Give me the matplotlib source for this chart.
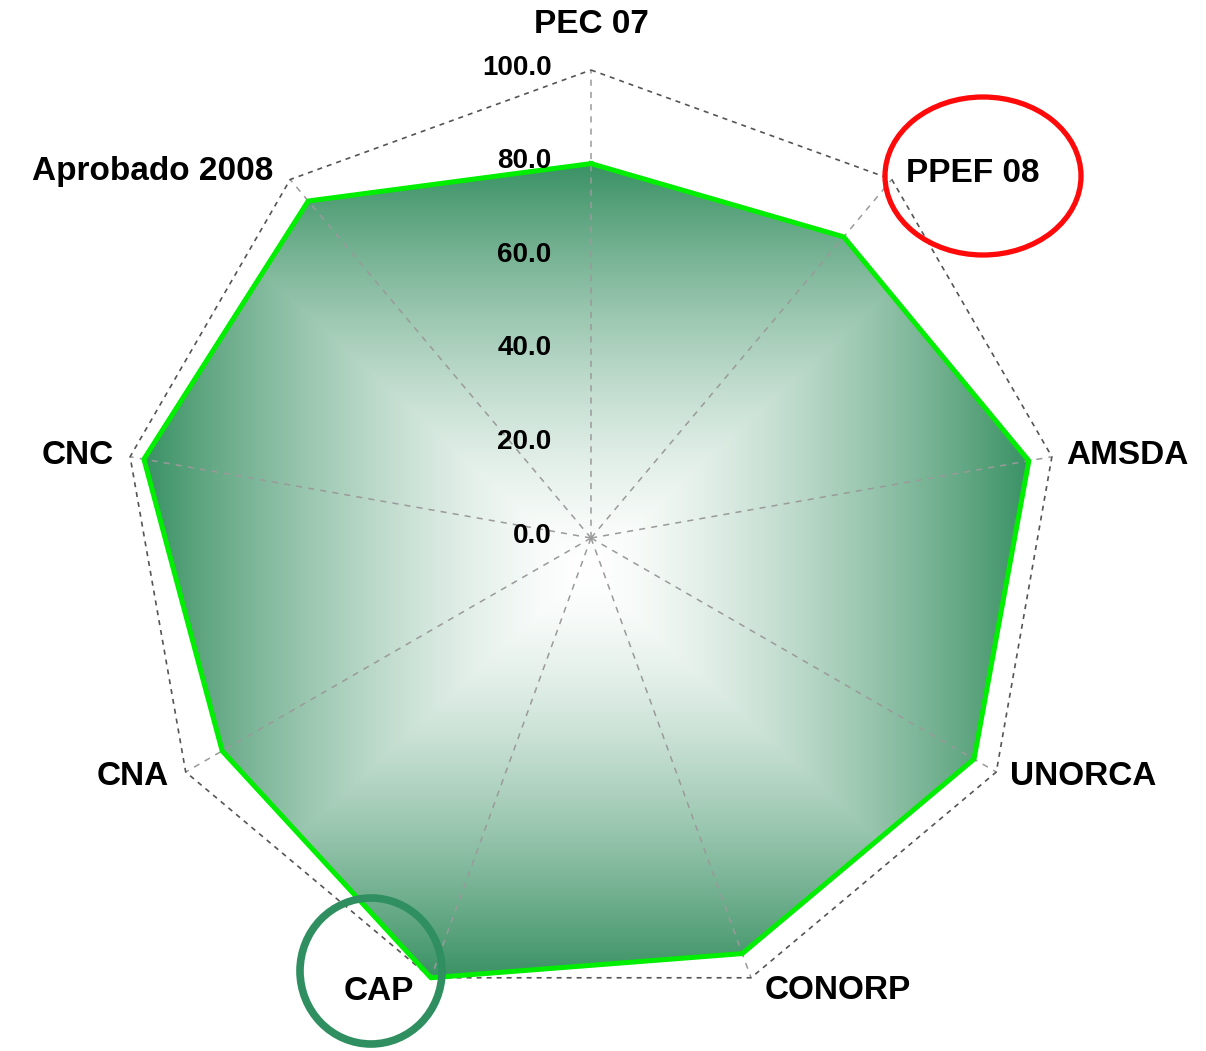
import numpy as np
import matplotlib
matplotlib.use("Agg")
import matplotlib.pyplot as plt
from matplotlib.patches import Polygon, Ellipse
from matplotlib.colors import to_rgb

# ---- data ----
categories = ["PEC 07", "PPEF 08", "AMSDA", "UNORCA", "CONORP", "CAP", "CNA", "CNC", "Aprobado 2008"]
values = [80.0, 84.0, 95.0, 94.5, 94.5, 100.0, 91.0, 97.0, 94.0]
tick_values = [0, 20, 40, 60, 80, 100]
tick_labels = ["0.0", "20.0", "40.0", "60.0", "80.0", "100.0"]

plt.rcParams['font.family'] = ['Liberation Sans', 'DejaVu Sans']

W, H = 1206, 1051
fig = plt.figure(figsize=(W / 100, H / 100), dpi=100)
ax = fig.add_axes([0, 0, 1, 1])
cx, cy, scale = 591.0, 538.0, 4.68   # pixel centre and px per unit
ax.set_xlim(-cx / scale, (W - cx) / scale)
ax.set_ylim(-(H - cy) / scale, cy / scale)
ax.set_aspect('equal')
ax.axis('off')

n = len(categories)
ang = np.arange(n) * 2 * np.pi / n  # clockwise from top
vals = np.array(values)
px = vals * np.sin(ang)
py = vals * np.cos(ang)
verts = np.column_stack([px, py])

# ---- rectangular "from centre" gradient over the polygon's bounding box ----
x0, x1 = px.min(), px.max()
y0, y1 = py.min(), py.max()
bcx, bcy = (x0 + x1) / 2, (y0 + y1) / 2
hx, hy = (x1 - x0) / 2, (y1 - y0) / 2
gx = np.linspace(-110, 110, 1000)
gy = np.linspace(-110, 110, 1000)
XX, YY = np.meshgrid(gx, gy)
T = np.maximum(np.abs(XX - bcx) / hx, np.abs(YY - bcy) / hy)
T = np.clip(T, 0, 1) ** 1.45
edge = np.array(to_rgb("#3a9164"))
img = np.ones(XX.shape + (3,)) * (1 - T[..., None]) + edge * T[..., None]
poly = Polygon(verts, closed=True, facecolor='none', edgecolor='none')
ax.add_patch(poly)
im = ax.imshow(img, extent=(-110, 110, -110, 110), origin='lower', zorder=1,
               interpolation='bilinear')
im.set_clip_path(poly)

# ---- spokes ----
for a in ang:
    ax.plot([0, 100 * np.sin(a)], [0, 100 * np.cos(a)], color='#9a9a9a', lw=1.1,
            ls=(0, (4, 4)), zorder=2)

# ---- outer ring (100) ----
ring_x = np.append(100 * np.sin(ang), 0)
ring_y = np.append(100 * np.cos(ang), 100)
ax.plot(ring_x, ring_y, color='#555555', lw=1.2, ls=(0, (3, 3)), zorder=2)

# ---- data outline ----
ax.plot(np.append(px, px[0]), np.append(py, py[0]), color='#00ee00', lw=3.6, zorder=3,
        solid_joinstyle='round')

# ---- tick labels ----
for v, lab in zip(tick_values, tick_labels):
    ax.text(-8.4, v + 0.5, lab, ha='right', va='center', fontsize=20, fontweight='bold', zorder=4)

# ---- category labels ----
for i, (c, a) in enumerate(zip(categories, ang)):
    x, y = 100 * np.sin(a), 100 * np.cos(a)
    deg = np.degrees(a)
    if i == 0:
        ax.annotate(c, (x, y), xytext=(0, 33), textcoords='offset points', ha='center',
                    va='center', fontsize=24, fontweight='bold', zorder=4)
    else:
        if deg < 180:
            ha, dx = 'left', 10
        else:
            ha, dx = 'right', -12
        dy = {1: 4, 2: 1, 3: -3, 4: -9, 5: -10, 6: -3, 7: 1, 8: 6}[i]
        ax.annotate(c, (x, y), xytext=(dx, dy), textcoords='offset points', ha=ha,
                    va='center', fontsize=24, fontweight='bold', zorder=4)

# ---- highlight circles ----
def p2d(pxx, pyy):
    return ((pxx - cx) / scale, (cy - pyy) / scale)

ax.add_patch(Ellipse(p2d(983, 176), 196 / scale, 158 / scale, fill=False,
                     edgecolor='#ff0a0a', lw=3.8, zorder=5))
ax.add_patch(Ellipse(p2d(371, 971), 142 / scale, 146 / scale, fill=False,
                     edgecolor='#2f8f60', lw=5.5, zorder=5))

fig.savefig("out.png", dpi=100)
